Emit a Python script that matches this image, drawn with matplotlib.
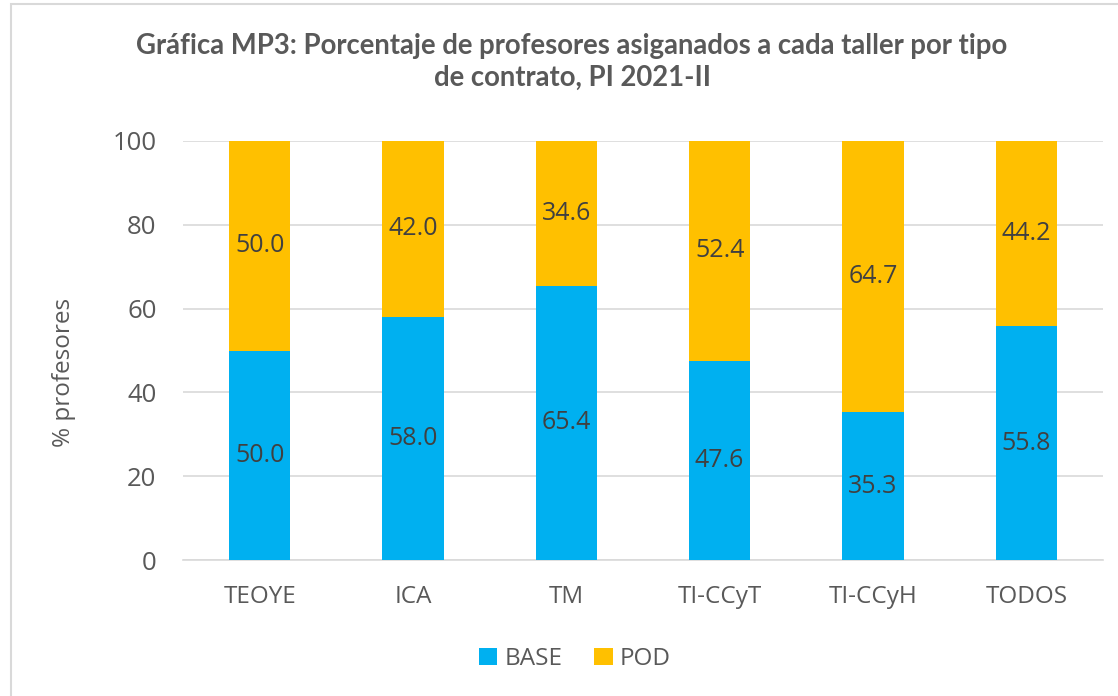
import matplotlib
matplotlib.use("Agg")
import matplotlib.pyplot as plt
from matplotlib.patches import Rectangle

categories = ["TEOYE", "ICA", "TM", "TI-CCyT", "TI-CCyH", "TODOS"]
base = [50.0, 58.0, 65.4, 47.6, 35.3, 55.8]
pod = [50.0, 42.0, 34.6, 52.4, 64.7, 44.2]
yticks = [0, 20, 40, 60, 80, 100]

BLUE = "#00B0F0"
GOLD = "#FFC000"
TXT = "#595959"
LBL = "#404040"

plt.rcParams['font.family'] = ['Open Sans', 'DejaVu Sans']

fig = plt.figure(figsize=(11.18, 6.96), dpi=100)
fig.patches.append(Rectangle((11/1118, -0.1), 1.2, 1 - 4/696 + 0.1, transform=fig.transFigure,
                             fill=False, edgecolor="#D9D9D9", linewidth=1.5))
ax = fig.add_axes([183/1118, 1-560/696, 920/1118, 419/696])

x = list(range(len(categories)))
b1 = ax.bar(x, base, width=0.4, color=BLUE, label="BASE", zorder=3)
b2 = ax.bar(x, pod, width=0.4, bottom=base, color=GOLD, label="POD", zorder=3)

for xi, bv, pv in zip(x, base, pod):
    ax.text(xi, bv/2, f"{bv:.1f}", ha="center", va="center", fontsize=18, color=LBL, zorder=4)
    ax.text(xi, bv + pv/2, f"{pv:.1f}", ha="center", va="center", fontsize=18, color=LBL, zorder=4)

ax.set_xlim(-0.5, len(categories)-0.5)
ax.set_ylim(0, 100)
ax.set_yticks(yticks)
ax.set_yticklabels([str(v) for v in yticks], fontsize=18.5, color=TXT)
ax.set_xticks(x)
ax.set_xticklabels(categories, fontsize=17.5, color=TXT)
ax.tick_params(axis="both", length=0)
ax.tick_params(axis="x", pad=18)
ax.tick_params(axis="y", pad=19)
ax.grid(axis="y", color="#D9D9D9", linewidth=1.2, zorder=0)
for s in ["top", "right", "left"]:
    ax.spines[s].set_visible(False)
ax.spines["bottom"].set_color("#D9D9D9")
ax.spines["bottom"].set_linewidth(1.2)

fig.text(64/1118, 1-372/696, "% profesores", rotation=90, ha="center", va="center",
         fontsize=17.5, color=TXT)

fig.text(572/1118, 1-62/696, "Gráfica MP3: Porcentaje de profesores asiganados a cada taller por tipo\nde contrato, PI 2021-II",
         ha="center", va="center", fontsize=19.8, fontweight="bold", color=TXT,
         family=['Lato', 'DejaVu Sans'], linespacing=1.25)

fig.legend(handles=[b1, b2], labels=["BASE", "POD"], loc="center", bbox_to_anchor=(575/1118, 1-659/696),
           ncol=2, frameon=False, fontsize=17.5, handlelength=0.75, handleheight=0.75,
           handletextpad=0.3, columnspacing=1.3, labelcolor=TXT)

fig.savefig("out.png", dpi=100)
